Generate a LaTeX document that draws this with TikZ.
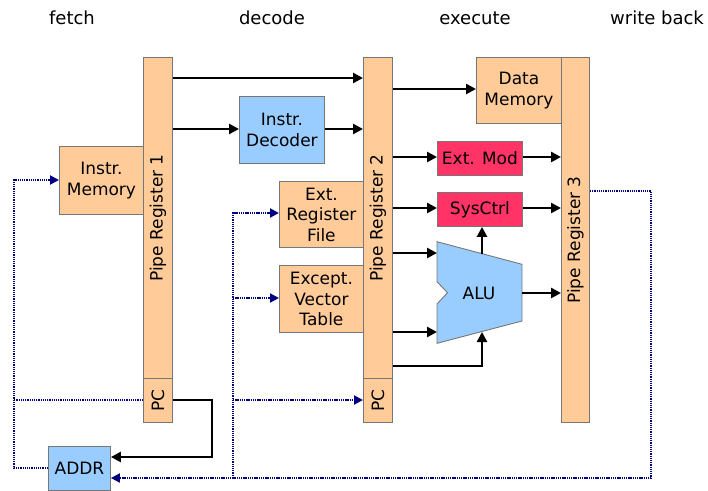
\documentclass[tikz,border=0pt]{standalone}
\usepackage{fontspec}
\setmainfont{DejaVu Sans}
\usetikzlibrary{arrows.meta}
\definecolor{peach}{HTML}{FFCC99}
\definecolor{lblue}{HTML}{99CCFF}
\definecolor{rred}{HTML}{FF3366}
\definecolor{bord}{HTML}{777777}
\definecolor{dnavy}{HTML}{000080}
\tikzset{
  blk/.style={draw=bord, line width=0.9pt, inner sep=0pt, anchor=north west, align=center,
    font=\fontsize{17}{20.5}\selectfont},
  orange/.style={blk, fill=peach},
  blue/.style={blk, fill=lblue},
  red/.style={blk, fill=rred},
  hdr/.style={font=\fontsize{18}{21}\selectfont},
  arr/.style={line width=2.7pt, -{Triangle[length=10pt,width=10pt]}},
  dotl/.style={draw=dnavy, line width=2pt, dash pattern=on 1.3pt off 0.9pt},
  darr/.style={dotl, -{Triangle[length=9pt,width=9pt,fill=dnavy,color=dnavy]}},
  rot/.style={rotate=90, font=\fontsize{17}{20}\selectfont},
}
\begin{document}
\begin{tikzpicture}[x=1pt,y=-1pt]
\useasboundingbox (0,0) rectangle (708,490);
% headers
\node[hdr] (h1) at (72,18) {fetch};
\node[hdr] (h2) at (272,18) {decode};
\node[hdr] (h3) at (475,18) {execute};
\node[hdr] (h4) at (657,18) {write back};
% boxes
\node[orange, minimum width=84pt, minimum height=68pt] (imem) at (59,146) {Instr.\\Memory};
\node[orange, minimum width=29pt, minimum height=321pt] (pr1) at (143,57) {};
\node[rot] (pr1t) at (pr1.center) {Pipe Register 1};
\node[orange, minimum width=29pt, minimum height=44pt] (pc1) at (143,378) {};
\node[rot] (pc1t) at (pc1.center) {PC};
\node[blue, minimum width=85pt, minimum height=67pt] (dec) at (239,96) {Instr.\\Decoder};
\node[orange, minimum width=84pt, minimum height=66pt] (erf) at (279,181) {Ext.\\Register\\File};
\node[orange, minimum width=84pt, minimum height=67pt] (evt) at (279,265) {Except.\\Vector\\Table};
\node[orange, minimum width=29pt, minimum height=321pt] (pr2) at (363,57) {};
\node[rot] (pr2t) at (pr2.center) {Pipe Register 2};
\node[orange, minimum width=29pt, minimum height=44pt] (pc2) at (363,378) {};
\node[rot] (pc2t) at (pc2.center) {PC};
\node[orange, minimum width=85pt, minimum height=66pt] (dmem) at (476,57) {Data\\Memory};
\node[red, minimum width=85pt, minimum height=34pt] (emod) at (437,141) {Ext. Mod};
\node[red, minimum width=85pt, minimum height=34pt] (sys) at (437,192) {SysCtrl};
\node[orange, minimum width=28pt, minimum height=365pt] (pr3) at (561,57) {};
\node[rot] (pr3t) at (pr3.center) {Pipe Register 3};
\node[blue, minimum width=62pt, minimum height=44pt] (addr) at (48,446) {ADDR};
% ALU
\draw[draw=bord, line width=0.9pt, fill=lblue] (437,241.7) -- (522,264.3) -- (522,321) -- (437,343.3)
  -- (437,304) -- (447.5,292.7) -- (437,281.7) -- cycle;
\node[font=\fontsize{17}{20}\selectfont] (alu) at (479,293) {ALU};
\coordinate (alutop) at (482,254);
\coordinate (alubot) at (482,332);
\coordinate (aluin1) at (437,253);
\coordinate (aluin2) at (437,332);
\coordinate (aluout) at (522,293);
% solid connections
\draw[arr] (pr1.east |- 0,78) -- (pr2.west |- 0,78);
\draw[arr] (pr1.east |- 0,129) -- (dec.west |- 0,129);
\draw[arr] (dec.east |- 0,129) -- (pr2.west |- 0,129);
\draw[arr] (pr2.east |- 0,89) -- (dmem.west |- 0,89);
\draw[arr] (pr2.east |- 0,157) -- (emod.west |- 0,157);
\draw[arr] (emod.east |- 0,157) -- (pr3.west |- 0,157);
\draw[arr] (pr2.east |- 0,208) -- (sys.west |- 0,208);
\draw[arr] (sys.east |- 0,208) -- (pr3.west |- 0,208);
\draw[arr] (pr2.east |- aluin1) -- (aluin1);
\draw[arr] (pr2.east |- aluin2) -- (aluin2);
\draw[arr] (pr2.east |- 0,366) -| (alubot);
\draw[arr] (alutop) -- (sys.south -| alutop);
\draw[arr] (aluout) -- (pr3.west |- aluout);
\draw[arr] (pc1.east |- 0,400) -- (212,400) -- (212,457) -- (addr.east |- 0,457);
% dotted connections
\draw[darr] (pr3.east |- 0,191) -- (651,191) -- (651,478) -- (addr.east |- 0,478);
\draw[darr] (addr.west |- 0,468) -- (14,468) -- (14,180) -- (imem.west |- 0,180);
\draw[dotl] (pc1.west |- 0,400) -- (14,400);
\draw[darr] (233,478) -- (233,213) -- (erf.west |- 0,213);
\draw[darr] (233,298) -- (evt.west |- 0,298);
\draw[darr] (233,400) -- (pc2.west |- 0,400);
\end{tikzpicture}
\end{document}
